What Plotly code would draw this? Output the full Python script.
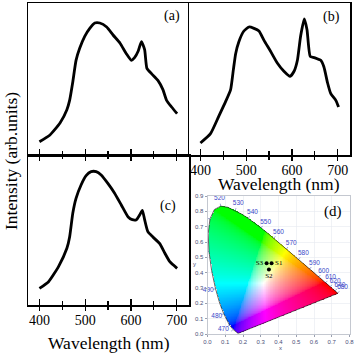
import numpy as np
import plotly.graph_objects as go

# ---------------- spectra data ----------------
wl_a = [400, 423, 445, 460, 466, 473, 480, 488, 499, 510, 521, 532, 547, 561, 576, 590,
        601, 608, 616, 623, 630, 635, 645, 659, 670, 678, 689, 701]
int_a = [0.10, 0.15, 0.24, 0.34, 0.41, 0.55, 0.71, 0.80, 0.89, 0.95, 0.99, 0.99, 0.96, 0.90,
         0.84, 0.76, 0.71, 0.73, 0.78, 0.85, 0.79, 0.65, 0.61, 0.56, 0.49, 0.41, 0.36, 0.31]

wl_b = [400, 422, 440, 455, 466, 472, 477, 484, 495, 506, 517, 528, 539, 553, 568, 582, 596,
        605, 612, 619, 627, 633, 640, 649, 663, 670, 678, 685, 696, 702]
int_b = [0.09, 0.16, 0.29, 0.40, 0.49, 0.64, 0.76, 0.85, 0.93, 0.96, 0.95, 0.93, 0.86, 0.78,
         0.69, 0.63, 0.59, 0.63, 0.71, 0.89, 1.02, 0.94, 0.74, 0.73, 0.71, 0.66, 0.54, 0.46,
         0.41, 0.36]

wl_c = [400, 420, 442, 460, 466, 473, 480, 491, 502, 513, 524, 535, 550, 564, 579, 594, 603,
        612, 619, 625, 630, 637, 648, 663, 674, 685, 701]
int_c = [0.125, 0.175, 0.29, 0.425, 0.51, 0.69, 0.80, 0.90, 0.97, 1.00, 1.00, 0.975, 0.91,
         0.84, 0.75, 0.66, 0.64, 0.64, 0.675, 0.71, 0.64, 0.55, 0.51, 0.46, 0.39, 0.325, 0.275]

major_ticks = [400, 500, 600, 700]
minor_ticks = [450, 550, 650]
major_labels = ["400", "500", "600", "700"]

# ---------------- CIE 1931 data ----------------
locus_wl = [380, 400, 420, 440, 450, 460, 470, 475, 480, 485, 490, 495, 500, 505, 510, 515,
            520, 525, 530, 535, 540, 545, 550, 555, 560, 565, 570, 575, 580, 585, 590, 595,
            600, 605, 610, 620, 630, 640, 650, 660, 680, 700]
locus_x = [0.1741, 0.1733, 0.1714, 0.1644, 0.1566, 0.1440, 0.1241, 0.1096, 0.0913, 0.0687,
           0.0454, 0.0235, 0.0082, 0.0039, 0.0139, 0.0389, 0.0743, 0.1142, 0.1547, 0.1929,
           0.2296, 0.2658, 0.3016, 0.3373, 0.3731, 0.4087, 0.4441, 0.4788, 0.5125, 0.5448,
           0.5752, 0.6029, 0.6270, 0.6482, 0.6658, 0.6915, 0.7079, 0.7190, 0.7260, 0.7300,
           0.7334, 0.7347]
locus_y = [0.0050, 0.0048, 0.0051, 0.0109, 0.0177, 0.0297, 0.0578, 0.0868, 0.1327, 0.2007,
           0.2950, 0.4127, 0.5384, 0.6548, 0.7502, 0.8120, 0.8338, 0.8262, 0.8059, 0.7816,
           0.7543, 0.7243, 0.6923, 0.6589, 0.6245, 0.5896, 0.5547, 0.5202, 0.4866, 0.4544,
           0.4242, 0.3965, 0.3725, 0.3514, 0.3340, 0.3083, 0.2920, 0.2809, 0.2740, 0.2700,
           0.2666, 0.2653]
label_wl = [460, 470, 480, 490, 500, 510, 520, 530, 540, 550, 560, 570, 580, 590, 600, 610,
            620, 640, 680]
sample_names = ["S1", "S2", "S3"]
sample_x = [0.361, 0.346, 0.333]
sample_y = [0.461, 0.420, 0.461]
sample_textpos = ["middle right", "bottom center", "middle left"]

# ---------------- figure geometry ----------------
W, H = 358, 357
def px_x(p):
    return p / W
def px_y(p):
    return 1 - p / H

dom_ax = [px_x(28), px_x(189)]
dom_bx = [px_x(189), px_x(350)]
dom_top = [px_y(155), px_y(3)]
dom_bot = [px_y(305), px_y(155)]
dom_dx = [px_x(207.5), px_x(349.5)]
dom_dy = [px_y(334), px_y(196)]
xr = [375, 727]

SERIF = "Liberation Serif"
fig = go.Figure()

line_style = dict(color="black", width=2.8, shape="spline", smoothing=0.5)
fig.add_trace(go.Scatter(x=wl_a, y=int_a, mode="lines", line=line_style,
                         xaxis="x", yaxis="y", hoverinfo="skip"))
fig.add_trace(go.Scatter(x=wl_b, y=int_b, mode="lines", line=line_style,
                         xaxis="x2", yaxis="y2", hoverinfo="skip"))
fig.add_trace(go.Scatter(x=wl_c, y=int_c, mode="lines", line=line_style,
                         xaxis="x3", yaxis="y3", hoverinfo="skip"))
# invisible helpers so overlay axes are drawn
fig.add_trace(go.Scatter(x=[wl_b[0]], y=[int_b[0]], mode="markers", marker=dict(opacity=0),
                         xaxis="x5", yaxis="y2", hoverinfo="skip"))
fig.add_trace(go.Scatter(x=[wl_c[0]], y=[int_c[0]], mode="markers", marker=dict(opacity=0),
                         xaxis="x6", yaxis="y3", hoverinfo="skip"))

# ---------------- CIE colour image ----------------
lx = np.array(locus_x)
ly = np.array(locus_y)
step = 0.004
gx = np.arange(step / 2, 0.8, step)
gy = np.arange(step / 2, 0.9, step)
GX, GY = np.meshgrid(gx, gy)
inside = np.zeros(GX.shape, dtype=bool)
n = len(lx)
for i in range(n):
    x1, y1 = lx[i], ly[i]
    x2, y2 = lx[(i + 1) % n], ly[(i + 1) % n]
    cond = (y1 > GY) != (y2 > GY)
    with np.errstate(divide="ignore", invalid="ignore"):
        xint = (x2 - x1) * (GY - y1) / (y2 - y1) + x1
    inside ^= cond & (GX < xint)
Xc = GX / GY
Zc = (1 - GX - GY) / GY
Yc = np.ones_like(GX)
M = np.array([[3.2406, -1.5372, -0.4986], [-0.9689, 1.8758, 0.0415], [0.0557, -0.2040, 1.0570]])
rgb = np.stack([M[k, 0] * Xc + M[k, 1] * Yc + M[k, 2] * Zc for k in range(3)], axis=-1)
rgb = np.clip(rgb, 0, None)
rgb = rgb / np.maximum(rgb.max(axis=-1, keepdims=True), 1e-9)
rgb = np.where(rgb <= 0.0031308, 12.92 * rgb, 1.055 * np.power(rgb, 1 / 2.4) - 0.055)
rgb = np.clip(rgb * 255, 0, 255).round()
alpha = inside.astype(float)
rgb[~inside] = 255
img = np.concatenate([rgb, alpha[..., None]], axis=-1)
fig.add_trace(go.Image(z=img.tolist(), colormodel="rgba", x0=gx[0], dx=step, y0=gy[0], dy=step,
                       xaxis="x4", yaxis="y4", hoverinfo="skip"))

# locus outline
fig.add_trace(go.Scatter(x=locus_x + [locus_x[0]], y=locus_y + [locus_y[0]], mode="lines",
                         line=dict(color="#222222", width=0.7), xaxis="x4", yaxis="y4",
                         hoverinfo="skip"))

# wavelength labels (and small tick marks) on the locus
sx = (349.5 - 207.5) / 0.8
sy = (334 - 196) / 0.9
lab_x, lab_y, lab_t = [], [], []
tk_x, tk_y = [], []
for w in label_wl:
    i = locus_wl.index(w)
    tx = (lx[min(i + 1, n - 1)] - lx[max(i - 1, 0)]) * sx
    ty = (ly[min(i + 1, n - 1)] - ly[max(i - 1, 0)]) * sy
    nx, ny = ty, -tx
    L = np.hypot(nx, ny)
    nx, ny = nx / L, ny / L
    if nx * (lx[i] - 0.33) * sx + ny * (ly[i] - 0.33) * sy < 0:
        nx, ny = -nx, -ny
    d = 7.5
    lab_x.append(lx[i] + nx * d / sx)
    lab_y.append(ly[i] + ny * d / sy)
    lab_t.append(str(w))
    tk_x += [lx[i], lx[i] + nx * 2.5 / sx, None]
    tk_y += [ly[i], ly[i] + ny * 2.5 / sy, None]
fig.add_trace(go.Scatter(x=tk_x, y=tk_y, mode="lines", line=dict(color="#5a64b0", width=0.6),
                         xaxis="x4", yaxis="y4", hoverinfo="skip", cliponaxis=False))
fig.add_trace(go.Scatter(x=lab_x, y=lab_y, text=lab_t, mode="text",
                         textfont=dict(family="Liberation Sans", size=6.5, color="#3a46c8"),
                         xaxis="x4", yaxis="y4", hoverinfo="skip", cliponaxis=False))

# samples
fig.add_trace(go.Scatter(x=sample_x, y=sample_y, text=sample_names, mode="markers+text",
                         textposition=sample_textpos,
                         marker=dict(color="black", size=4),
                         textfont=dict(family=SERIF, size=7, color="black"),
                         xaxis="x4", yaxis="y4", hoverinfo="skip"))

# ---------------- axes ----------------
AX_LINE = dict(showline=True, linecolor="black", linewidth=1.5, showgrid=False, zeroline=False,
               automargin=False)
def spec_x(domain, anchor, mirror):
    return dict(domain=domain, anchor=anchor, range=xr, autorange=False, mirror=mirror,
                ticks="inside", tickvals=major_ticks, ticklen=6, tickwidth=1.3,
                tickcolor="black", showticklabels=False,
                minor=dict(tickvals=minor_ticks, ticks="inside", ticklen=4, tickwidth=1.2,
                           tickcolor="black"),
                **AX_LINE)
def spec_y(domain, anchor, rng, mirror=True):
    return dict(domain=domain, anchor=anchor, range=rng, autorange=False, mirror=mirror,
                ticks="", showticklabels=False, **AX_LINE)
def overlay_x(base, anchor):
    return dict(overlaying=base, anchor=anchor, side="bottom", range=xr, autorange=False,
                ticks="outside", tickvals=major_ticks, ticktext=major_labels, ticklen=5,
                tickwidth=1.3, tickcolor="black", showline=False, showgrid=False,
                zeroline=False, automargin=False, ticklabelstandoff=-3,
                tickfont=dict(family=SERIF, size=14, color="black"),
                minor=dict(tickvals=minor_ticks, ticks="outside", ticklen=4, tickwidth=1.2,
                           tickcolor="black"))

cie_tick_font = dict(family="Liberation Sans", size=6, color="#4a4f78")
cie_axis = dict(autorange=False, dtick=0.1, tick0=0, tickformat=".1f", ticks="outside",
                ticklen=2, tickcolor="#9aa0b0", showline=True, linecolor="#c4c8d0",
                linewidth=1, mirror=True, showgrid=True, gridcolor="#e6e9f0", gridwidth=0.6,
                zeroline=False, tickfont=cie_tick_font, automargin=False)
fig.update_layout(
    width=W, height=H, autosize=False, margin=dict(l=0, r=0, t=0, b=0, autoexpand=False),
    paper_bgcolor="white", plot_bgcolor="rgba(0,0,0,0)", showlegend=False,
    xaxis=spec_x(dom_ax, "y", True),
    yaxis=spec_y(dom_top, "x", [0, 1.14], mirror=False),
    xaxis2=spec_x(dom_bx, "y2", True),
    yaxis2=spec_y(dom_top, "x2", [0, 1.14]),
    xaxis3=spec_x(dom_ax, "y3", "ticks"),
    yaxis3=spec_y(dom_bot, "x3", [0, 1.125]),
    xaxis5=overlay_x("x2", "y2"),
    xaxis6=overlay_x("x3", "y3"),
    xaxis4=dict(domain=dom_dx, anchor="y4", range=[0, 0.8], **cie_axis),
    yaxis4=dict(domain=dom_dy, anchor="x4", range=[0, 0.9], scaleanchor=False, **cie_axis),
)

ann_font = dict(family=SERIF, size=14, color="black")
small_font = dict(family="Liberation Sans", size=6, color="#4a4f78")
annotations = [
    dict(text="(a)", x=px_x(172), y=px_y(16), font=ann_font),
    dict(text="(b)", x=px_x(331), y=px_y(17), font=ann_font),
    dict(text="(c)", x=px_x(168), y=px_y(206), font=ann_font),
    dict(text="(d)", x=px_x(333), y=px_y(211), font=dict(family=SERIF, size=15, color="black")),
    dict(text="Intensity (arb.units)", x=px_x(11), y=px_y(161), textangle=-90,
         font=dict(family=SERIF, size=17.5, color="black")),
    dict(text="Wavelength (nm)", x=px_x(278.5), y=px_y(184),
         font=dict(family=SERIF, size=17.5, color="black")),
    dict(text="Wavelength (nm)", x=px_x(108.5), y=px_y(343),
         font=dict(family=SERIF, size=17.5, color="black")),
    dict(text="x", x=px_x(280), y=px_y(348), font=small_font),
    dict(text="y", x=px_x(194), y=px_y(264), font=small_font),
]
for a in annotations:
    a.update(xref="paper", yref="paper", showarrow=False, xanchor="center", yanchor="middle")
fig.update_layout(annotations=annotations)

fig.write_html("out.html",
               config={"displayModeBar": False, "responsive": False, "staticPlot": True},
               post_script="document.body.style.margin='0';document.body.style.padding='0';"
                           "document.documentElement.style.overflow='hidden';")
